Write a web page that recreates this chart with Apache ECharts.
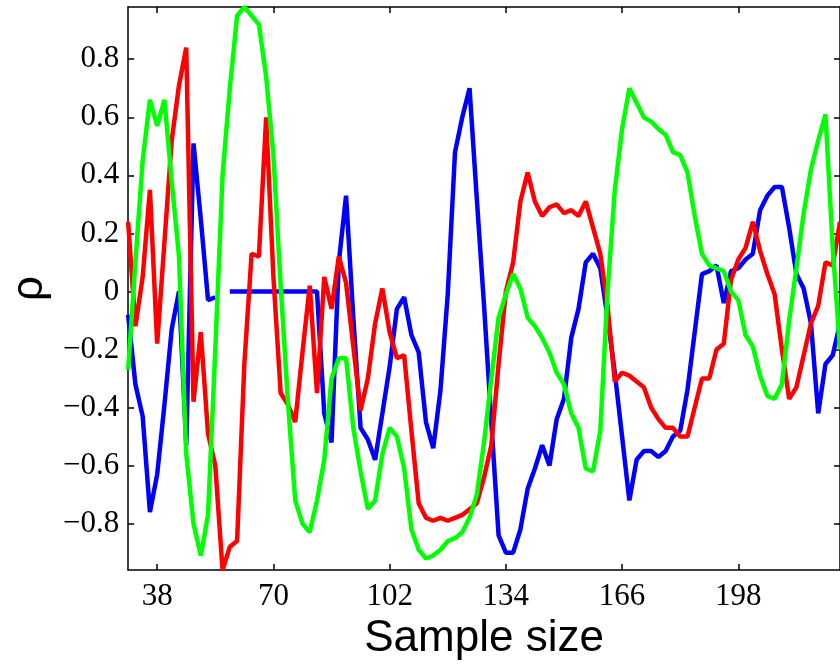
<!DOCTYPE html>
<html>
<head>
<meta charset="utf-8">
<script src="https://cdn.jsdelivr.net/npm/echarts@6/dist/echarts.min.js"></script>
<style>html,body{margin:0;padding:0;background:#fff;}#chart{width:840px;height:666px;}</style>
</head>
<body>
<div id="chart"></div>
<script>
const sampleSizes = [30,32,34,36,38,40,42,44,46,48,50,52,54,56,58,60,62,64,66,68,70,72,74,76,78,80,82,84,86,88,90,92,94,96,98,100,102,104,106,108,110,112,114,116,118,120,122,124,126,128,130,132,134,136,138,140,142,144,146,148,150,152,154,156,158,160,162,164,166,168,170,172,174,176,178,180,182,184,186,188,190,192,194,196,198,200,202,204,206,208,210,212,214,216,218,220,222,224,226];

const blueRho = [-0.08,-0.32,-0.43,-0.76,-0.63,-0.39,-0.13,0.00,-0.53,0.51,
  0.25,-0.03,-0.02,null,0,0,0,0,0,0,
  0,0,0,0,0,0,0,-0.42,-0.52,0.10,
  0.33,-0.09,-0.47,-0.51,-0.58,-0.42,-0.26,-0.06,-0.02,-0.15,
  -0.21,-0.45,-0.54,-0.34,-0.01,0.48,0.60,0.70,0.32,-0.05,
  -0.45,-0.84,-0.90,-0.90,-0.82,-0.68,-0.61,-0.53,-0.60,-0.44,
  -0.37,-0.16,-0.06,0.10,0.13,0.08,-0.09,-0.28,-0.50,-0.72,
  -0.58,-0.55,-0.55,-0.57,-0.55,-0.50,-0.48,-0.34,-0.14,0.06,
  0.07,0.09,-0.04,0.07,0.08,0.11,0.13,0.28,0.33,0.36,
  0.36,0.22,0.06,0.01,-0.11,-0.42,-0.25,-0.22,-0.11];

const redRho = [0.24,-0.12,0.05,0.35,-0.18,0.17,0.52,0.71,0.84,-0.38,
  -0.14,-0.49,-0.60,-0.96,-0.88,-0.86,-0.25,0.13,0.12,0.60,
  0.05,-0.35,-0.39,-0.45,-0.21,0.02,-0.35,0.05,-0.06,0.12,
  0.03,-0.19,-0.41,-0.30,-0.11,0.01,-0.14,-0.23,-0.22,-0.48,
  -0.73,-0.78,-0.79,-0.78,-0.79,-0.78,-0.77,-0.75,-0.73,-0.64,
  -0.53,-0.25,0.00,0.10,0.31,0.41,0.31,0.26,0.29,0.30,
  0.27,0.28,0.26,0.31,0.22,0.13,-0.05,-0.31,-0.28,-0.29,
  -0.31,-0.33,-0.40,-0.44,-0.47,-0.47,-0.50,-0.50,-0.40,-0.30,
  -0.30,-0.20,-0.18,0.04,0.11,0.15,0.24,0.14,0.06,-0.01,
  -0.20,-0.37,-0.33,-0.22,-0.11,-0.05,0.10,0.09,0.24];

const greenRho = [-0.27,0.10,0.45,0.66,0.57,0.66,0.38,0.12,-0.56,-0.80,
  -0.91,-0.77,-0.20,0.40,0.70,0.95,0.98,0.95,0.92,0.74,
  0.47,0.02,-0.38,-0.72,-0.80,-0.83,-0.72,-0.58,-0.30,-0.23,
  -0.23,-0.47,-0.62,-0.75,-0.72,-0.56,-0.47,-0.50,-0.61,-0.82,
  -0.89,-0.92,-0.91,-0.89,-0.86,-0.85,-0.83,-0.78,-0.70,-0.52,
  -0.30,-0.09,-0.01,0.06,0.01,-0.09,-0.12,-0.16,-0.21,-0.28,
  -0.32,-0.42,-0.47,-0.61,-0.62,-0.48,0.00,0.35,0.56,0.70,
  0.65,0.60,0.585,0.56,0.54,0.48,0.47,0.41,0.26,0.13,
  0.09,0.08,0.07,0.00,-0.03,-0.15,-0.19,-0.29,-0.36,-0.37,
  -0.32,-0.10,0.08,0.27,0.42,0.52,0.61,0.15,-0.20];

const xTicks = [38,70,102,134,166,198];
const yTicks = [-0.8,-0.6,-0.4,-0.2,0,0.2,0.4,0.6,0.8];

const xMin = 30, xMax = 226, yMin = -0.96, yMax = 0.98;

function pairs(vals){ return sampleSizes.map((x,i)=>[x, vals[i]]); }
function fmtY(v){
  if (Math.abs(v) < 1e-9) return '0';
  const s = Math.abs(v).toFixed(1);
  return v < 0 ? '\u2212' + s : s;
}

const axisLineStyle = {color:'#000', width:1.5};
const tickStyle = {color:'#000', width:1.5};

const chart = echarts.init(document.getElementById('chart'), null, {renderer:'canvas'});
chart.setOption({
  animation:false,
  backgroundColor:'#fff',
  grid:{left:127, right:0, top:7, bottom:94, containLabel:false},
  xAxis:[{
    type:'value', min:xMin, max:xMax, position:'bottom',
    axisLine:{show:true, onZero:false, lineStyle:axisLineStyle},
    axisTick:{show:true, inside:true, length:6, lineStyle:tickStyle, customValues:xTicks},
    axisLabel:{show:true, customValues:xTicks, color:'#000', fontFamily:'Liberation Serif', fontSize:31, margin:11},
    splitLine:{show:false},
    name:'Sample size', nameLocation:'middle', nameGap:43,
    nameTextStyle:{color:'#000', fontFamily:'Liberation Sans', fontSize:44}
  },{
    type:'value', min:xMin, max:xMax, position:'top',
    axisLine:{show:true, onZero:false, lineStyle:axisLineStyle},
    axisTick:{show:true, inside:true, length:6, lineStyle:tickStyle, customValues:xTicks},
    axisLabel:{show:false}, splitLine:{show:false}
  }],
  yAxis:[{
    type:'value', min:yMin, max:yMax, position:'left',
    axisLine:{show:true, onZero:false, lineStyle:axisLineStyle},
    axisTick:{show:true, inside:true, length:6, lineStyle:tickStyle, customValues:yTicks},
    axisLabel:{show:true, customValues:yTicks, formatter:fmtY, color:'#000', fontFamily:'Liberation Serif', fontSize:31, margin:9},
    splitLine:{show:false},
    name:'\u03C1', nameLocation:'middle', nameGap:74, nameRotate:90,
    nameTextStyle:{color:'#000', fontFamily:'Liberation Sans', fontSize:44}
  },{
    type:'value', min:yMin, max:yMax, position:'right',
    axisLine:{show:true, onZero:false, lineStyle:axisLineStyle},
    axisTick:{show:true, inside:true, length:6, lineStyle:tickStyle, customValues:yTicks},
    axisLabel:{show:false}, splitLine:{show:false}
  }],
  series:[
    {name:'blue', type:'line', data:pairs(blueRho), showSymbol:false, connectNulls:false, clip:true,
     lineStyle:{color:'#0000ff', width:4.5}, itemStyle:{color:'#0000ff'}},
    {name:'red', type:'line', data:pairs(redRho), showSymbol:false, clip:true,
     lineStyle:{color:'#ff0000', width:4.5}, itemStyle:{color:'#ff0000'}},
    {name:'green', type:'line', data:pairs(greenRho), showSymbol:false, clip:true,
     lineStyle:{color:'#00ff00', width:4.5}, itemStyle:{color:'#00ff00'}}
  ]
});
</script>
</body>
</html>
